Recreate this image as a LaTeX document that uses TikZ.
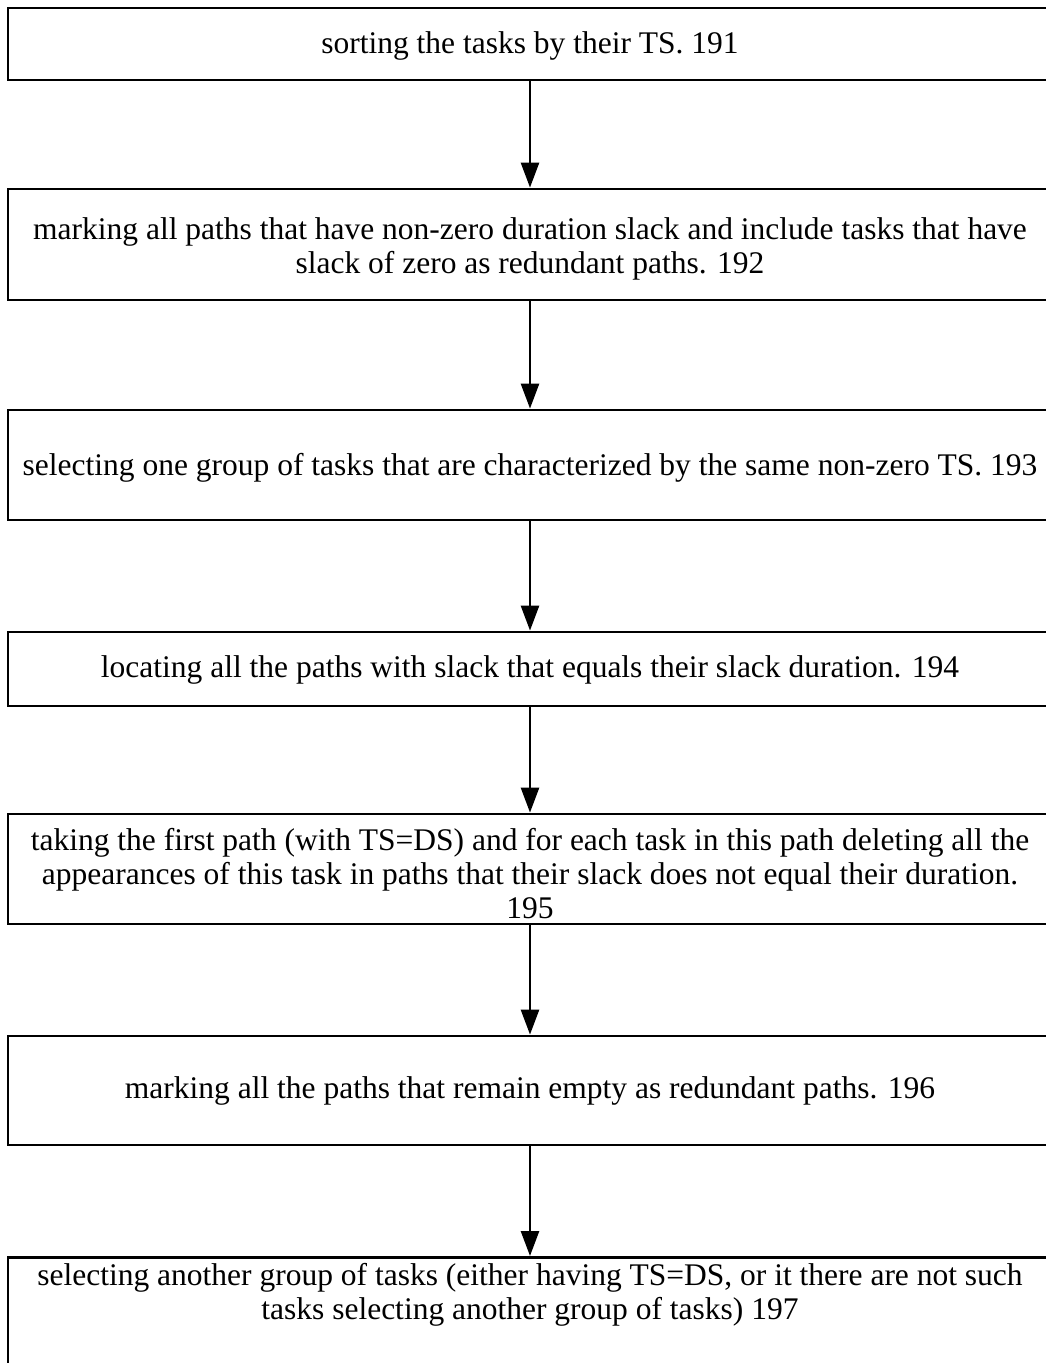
\documentclass[tikz,border=0pt]{standalone}
\usepackage{fontspec}
\setmainfont{Liberation Serif}
\usetikzlibrary{arrows.meta}
\newcommand{\steptext}[2]{\raisebox{#1}[\height][\depth]{\begin{tabular}{@{}c@{}}#2\end{tabular}}}
\tikzset{
  stepbox/.style={draw, line width=2.8pt, minimum width=1044pt, inner sep=0pt, align=center, font=\fontsize{31.5}{34}\selectfont},
  arr/.style={line width=2.6pt, -{Triangle[length=25pt,width=18pt]}}
}
\begin{document}
\begin{tikzpicture}[x=1pt,y=-1pt]
\useasboundingbox (0,0) rectangle (1045,1363);
\node[stepbox, minimum height=72pt] (b1) at (530,44) {\steptext{-3pt}{sorting the tasks by their TS. 191}};
\node[stepbox, minimum height=111pt] (b2) at (530,244.5) {\steptext{-5pt}{marking all paths that have non-zero duration slack and include tasks that have\\slack of zero as redundant paths. 192}};
\node[stepbox, minimum height=110pt] (b3) at (530,465) {\steptext{-4pt}{selecting one group of tasks that are characterized by the same non-zero TS. 193}};
\node[stepbox, minimum height=74pt] (b4) at (530,669) {\steptext{-2pt}{locating all the paths with slack that equals their slack duration. 194}};
\node[stepbox, minimum height=110pt] (b5) at (530,869) {\steptext{-9pt}{taking the first path (with TS=DS) and for each task in this path deleting all the\\appearances of this task in paths that their slack does not equal their duration.\\195}};
\node[stepbox, minimum height=109pt] (b6) at (530,1090.5) {\steptext{-1pt}{marking all the paths that remain empty as redundant paths. 196}};
\node[stepbox, minimum height=200pt, anchor=north] (b7) at (530,1256) {\steptext{62pt}{selecting another group of tasks (either having TS=DS, or it there are not such\\tasks selecting another group of tasks) 197}};
\draw[arr] (b1) -- (b2);
\draw[arr] (b2) -- (b3);
\draw[arr] (b3) -- (b4);
\draw[arr] (b4) -- (b5);
\draw[arr] (b5) -- (b6);
\draw[arr] (b6) -- (b7);
\end{tikzpicture}
\end{document}
